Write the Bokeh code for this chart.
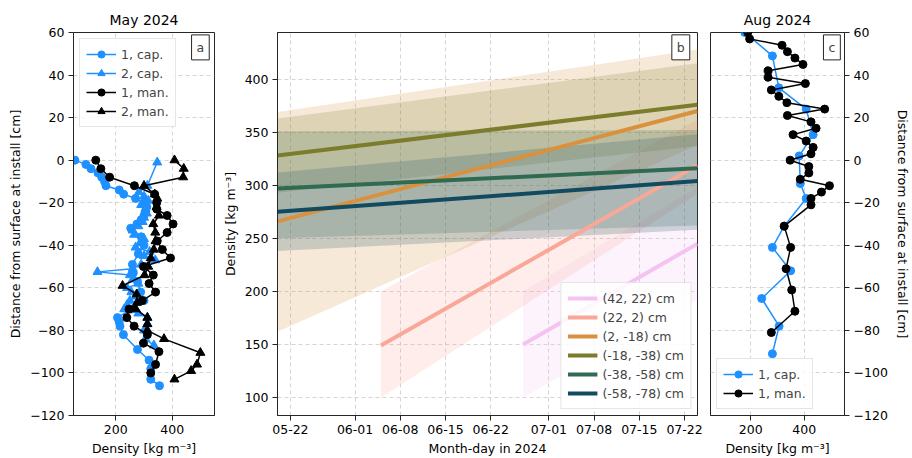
import pandas as pd
from bokeh.plotting import figure
from bokeh.layouts import row
from bokeh.models import Range1d, FixedTicker, DatetimeTickFormatter, Label
from bokeh.embed import file_html
from bokeh.resources import INLINE

FONT = "DejaVu Sans"
INK = "#262626"
BLUE = "#1e90ff"
BLACK = "#000000"

# ---- May 2024 profiles: depth from install surface [cm] vs density [kg m^-3]
may_cap1_depth = [0, -2, -4, -6, -8, -10, -12, -14, -16, -18, -20, -22, -24, -26, -28, -30, -32,
                  -36, -40, -44, -49, -53, -57, -62, -66, -70, -74, -76, -78, -82, -89, -94, -98, -103, -106]
may_cap1_dens = [55, 94, 112, 137, 150, 160, 165, 212, 228, 270, 300, 310, 305, 300, 290, 275, 253,
                 290, 300, 280, 259, 262, 277, 288, 300, 255, 206, 212, 215, 227, 277, 318, 324, 324, 355]

may_cap2_depth = [-1, -12, -15, -17, -19, -21, -23, -25, -27, -29, -31, -33, -35, -37, -39, -41, -43, -45,
                  -47, -49, -51, -52.5, -54, -56, -58, -60, -62, -64, -66, -68, -70, -72, -74, -77, -80, -84, -87]
may_cap2_dens = [347, 312, 282, 300, 315, 290, 305, 310, 300, 295, 280, 260, 265, 300, 285, 270, 320, 300,
                 340, 290, 260, 135, 250, 260, 280, 240, 255, 270, 250, 240, 230, 280, 312, 312, 300, 305, 335]

may_man1_depth = [0, -4, -8, -12, -16, -20, -23, -26, -30, -34, -38, -42, -46, -50, -54, -58, -62,
                  -66, -70, -74, -78, -82, -86, -90, -96, -100]
may_man1_dens = [129, 147, 178, 266, 338, 345, 345, 382, 403, 382, 347, 365, 394, 298, 333, 318, 341,
                 294, 247, 239, 265, 312, 298, 353, 341, 324]

may_man2_depth = [0, -4, -8, -12, -16, -18, -22, -26, -30, -34, -38, -42, -46, -50, -54, -59, -63,
                  -67, -70, -74, -77, -80, -84, -90.5, -96, -99, -103]
may_man2_dens = [408, 441, 439, 300, 338, 347, 345, 353, 333, 340, 341, 335, 324, 315, 302, 224, 274,
                 275, 271, 312, 312, 312, 371, 500, 488, 467, 408]

# ---- Aug 2024 profiles
aug_cap1_depth = [60, 49, 34, 24, 12, 2, -11, -18, -31, -41, -52, -65, -78, -91]
aug_cap1_dens = [178, 281, 305, 407, 433, 381, 385, 407, 325, 281, 349, 241, 306, 281]

aug_man1_depth = [60, 57, 54, 51, 48, 45, 42, 39, 36, 33, 30, 27, 24, 21, 18, 15, 12, 9, 6, 3, 0,
                  -3, -6, -9, -12, -15, -18, -21, -31, -41, -51, -61, -71, -81]
aug_man1_dens = [189, 196, 317, 337, 365, 395, 265, 265, 404, 277, 305, 335, 476, 337, 425, 444, 358,
                 407, 433, 425, 347, 417, 417, 385, 494, 464, 425, 425, 325, 349, 332, 353, 365, 277]

# ---- Density trends per layer, with uncertainty bands
layer_names = ["(42, 22) cm", "(22, 2) cm", "(2, -18) cm", "(-18, -38) cm", "(-38, -58) cm", "(-58, -78) cm"]
layer_colors = ["#f5c3f2", "#f9a797", "#d9913e", "#7b7d2c", "#2f6a51", "#124a60"]
trend_start = ["2024-06-27", "2024-06-05", "2024-05-20", "2024-05-20", "2024-05-20", "2024-05-20"]
trend_end = ["2024-07-24"] * 6
mid_start = [150, 149, 266, 328, 297, 275]
mid_end = [245, 319, 370, 376, 316, 304]
low_start = [100, 100, 162, 293, 250, 238]
low_end = [192, 292, 338, 337, 262, 258]
high_start = [200, 200, 369, 363, 351, 312]
high_end = [298, 362, 428, 415, 352, 348]

date_ticks = ["2024-05-22", "2024-06-01", "2024-06-08", "2024-06-15", "2024-06-22",
              "2024-07-01", "2024-07-08", "2024-07-15", "2024-07-22"]


def ms(s):
    return pd.Timestamp(s).value / 1e6


def style(p):
    p.outline_line_color = INK
    p.outline_line_width = 1
    p.background_fill_color = "white"
    p.border_fill_color = "white"
    for ax in p.axis:
        ax.axis_line_color = INK
        ax.major_tick_line_color = INK
        ax.major_tick_out = 5
        ax.major_tick_in = 0
        ax.minor_tick_line_color = None
        ax.major_label_standoff = 4
        ax.axis_label_standoff = 4
        ax.major_label_text_font = FONT
        ax.major_label_text_font_size = "12.5px"
        ax.major_label_text_color = "black"
        ax.axis_label_text_font = FONT
        ax.axis_label_text_font_size = "12.5px"
        ax.axis_label_text_font_style = "normal"
        ax.axis_label_text_color = "black"
    for g in (p.xgrid, p.ygrid):
        g.grid_line_color = "#d4d4d4"
        g.grid_line_dash = "4 3"
        g.grid_line_width = 1
    p.title.text_font = FONT
    p.title.text_font_size = "14px"
    p.title.text_font_style = "normal"
    p.title.text_color = "black"
    p.title.align = "center"


def style_legend(lg):
    lg.label_text_font = FONT
    lg.label_text_font_size = "12.5px"
    lg.border_line_color = "#cccccc"
    lg.background_fill_alpha = 0.85
    lg.glyph_width = 30
    lg.label_height = 18
    lg.glyph_height = 18
    lg.spacing = 1
    lg.padding = 6
    lg.margin = 6


def panel_tag(p, x, y, txt):
    p.add_layout(Label(x=x, y=y, text=txt, text_align="center", text_baseline="middle",
                       text_font=FONT, text_font_size="12.5px",
                       border_line_color=INK, background_fill_color="white", padding=5))


common = dict(height=458, min_border_top=32, min_border_bottom=41,
              output_backend="svg", toolbar_location=None)

# ---- Panel a: May 2024
pa = figure(width=219, min_border_left=73, min_border_right=5, title="May 2024",
            x_range=Range1d(50, 550), y_range=Range1d(-120, 60), **common)
pa.line(may_cap1_dens, may_cap1_depth, color=BLUE, line_width=1.5, legend_label="1, cap.")
pa.scatter(may_cap1_dens, may_cap1_depth, marker="circle", size=8, color=BLUE, legend_label="1, cap.")
pa.line(may_cap2_dens, may_cap2_depth, color=BLUE, line_width=1.5, legend_label="2, cap.")
pa.scatter(may_cap2_dens, may_cap2_depth, marker="triangle", size=9, color=BLUE, legend_label="2, cap.")
pa.line(may_man1_dens, may_man1_depth, color=BLACK, line_width=1.5, legend_label="1, man.")
pa.scatter(may_man1_dens, may_man1_depth, marker="circle", size=8, color=BLACK, legend_label="1, man.")
pa.line(may_man2_dens, may_man2_depth, color=BLACK, line_width=1.5, legend_label="2, man.")
pa.scatter(may_man2_dens, may_man2_depth, marker="triangle", size=9, color=BLACK, legend_label="2, man.")
pa.xaxis.ticker = FixedTicker(ticks=[200, 400])
pa.yaxis.ticker = FixedTicker(ticks=list(range(-120, 61, 20)))
pa.xaxis.axis_label = "Density [kg m\u207b\u00b3]"
pa.yaxis.axis_label = "Distance from surface at install [cm]"
style(pa)
pa.legend.location = "top_left"
style_legend(pa.legend[0])
panel_tag(pa, 500, 53, "a")

# ---- Panel b: density trends
pb = figure(width=486, min_border_left=56, min_border_right=8,
            x_axis_type="datetime",
            x_range=Range1d(pd.Timestamp("2024-05-20"), pd.Timestamp("2024-07-24")),
            y_range=Range1d(83, 444), **common)
for i in range(len(layer_names)):
    xs = [pd.Timestamp(trend_start[i]), pd.Timestamp(trend_end[i])]
    pb.varea(x=xs, y1=[low_start[i], low_end[i]], y2=[high_start[i], high_end[i]],
             fill_color=layer_colors[i], fill_alpha=0.2)
for i in range(len(layer_names)):
    xs = [pd.Timestamp(trend_start[i]), pd.Timestamp(trend_end[i])]
    pb.line(x=xs, y=[mid_start[i], mid_end[i]], color=layer_colors[i], line_width=4,
            legend_label=layer_names[i])
pb.xaxis.ticker = FixedTicker(ticks=[ms(d) for d in date_ticks])
pb.xaxis.formatter = DatetimeTickFormatter(days="%m-%d", months="%m-%d", hours="%m-%d",
                                           years="%m-%d", minutes="%m-%d")
pb.yaxis.ticker = FixedTicker(ticks=list(range(100, 401, 50)))
pb.xaxis.axis_label = "Month-day in 2024"
pb.yaxis.axis_label = "Density [kg m\u207b\u00b3]"
style(pb)
pb.legend.location = "bottom_right"
style_legend(pb.legend[0])
panel_tag(pb, ms("2024-07-21 10:00"), 430, "b")

# ---- Panel c: Aug 2024
pc = figure(width=207, min_border_left=5, min_border_right=61, title="Aug 2024",
            y_axis_location="right",
            x_range=Range1d(50, 550), y_range=Range1d(-120, 60), **common)
pc.line(aug_cap1_dens, aug_cap1_depth, color=BLUE, line_width=1.5, legend_label="1, cap.")
pc.scatter(aug_cap1_dens, aug_cap1_depth, marker="circle", size=8, color=BLUE, legend_label="1, cap.")
pc.line(aug_man1_dens, aug_man1_depth, color=BLACK, line_width=1.5, legend_label="1, man.")
pc.scatter(aug_man1_dens, aug_man1_depth, marker="circle", size=8, color=BLACK, legend_label="1, man.")
pc.xaxis.ticker = FixedTicker(ticks=[200, 400])
pc.yaxis.ticker = FixedTicker(ticks=list(range(-120, 61, 20)))
pc.xaxis.axis_label = "Density [kg m\u207b\u00b3]"
pc.yaxis.axis_label = "Distance from surface at install [cm]"
style(pc)
pc.legend.location = "bottom_left"
style_legend(pc.legend[0])
panel_tag(pc, 503, 53, "c")

layout = row(pa, pb, pc)
open("out.html", "w").write(file_html(layout, INLINE))
